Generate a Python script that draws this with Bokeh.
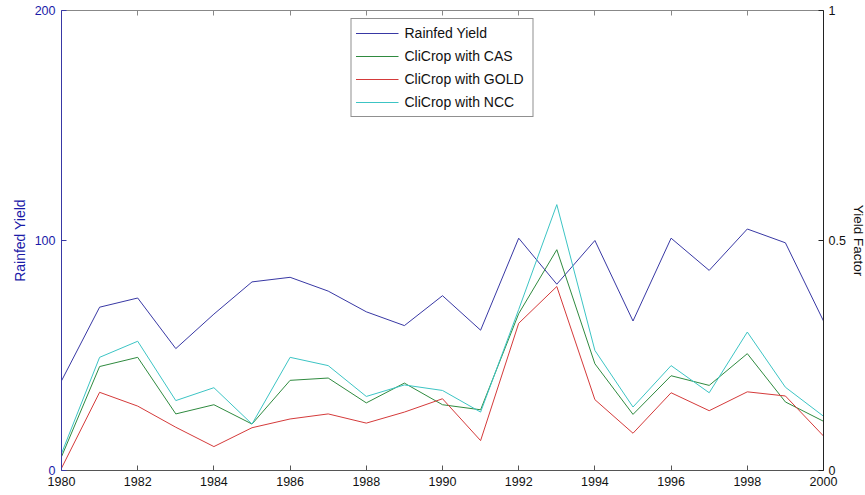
from bokeh.plotting import figure
from bokeh.models import Range1d, LinearAxis, FixedTicker, Legend, LegendItem
from bokeh.embed import file_html
from bokeh.resources import INLINE

years = list(range(1980, 2001))
rainfed = [39, 71, 75, 53, 68, 82, 84, 78, 69, 63, 76, 61, 101, 81, 100, 65, 101, 87, 105, 99, 65]
cas = [0.03, 0.226, 0.246, 0.123, 0.143, 0.101, 0.196, 0.201, 0.147, 0.19, 0.143, 0.132,
       0.341, 0.48, 0.232, 0.122, 0.206, 0.185, 0.254, 0.149, 0.107]
gold = [0.005, 0.17, 0.14, 0.094, 0.052, 0.093, 0.112, 0.123, 0.103, 0.127, 0.156, 0.065,
        0.32, 0.40, 0.154, 0.081, 0.169, 0.13, 0.171, 0.162, 0.075]
ncc = [0.037, 0.246, 0.281, 0.152, 0.18, 0.101, 0.246, 0.228, 0.161, 0.186, 0.174, 0.127,
       0.35, 0.578, 0.261, 0.138, 0.228, 0.169, 0.301, 0.181, 0.118]
x_ticks = list(range(1980, 2001, 2))
left_ticks = [0, 100, 200]
right_ticks = [0, 0.5, 1]

FONT = "Liberation Sans"
BLUE_TXT = "#1a1aa8"
BLUE_LINE = "#3838a4"

p = figure(frame_width=762, frame_height=460, output_backend="svg", toolbar_location=None,
           x_range=Range1d(1980, 2000), y_range=Range1d(0, 200),
           x_axis_location=None, y_axis_location=None,
           min_border_left=61, min_border_right=42, min_border_top=10, min_border_bottom=25)
p.extra_y_ranges = {"yf": Range1d(0, 1)}
p.grid.visible = False
p.outline_line_color = None
p.background_fill_color = "white"
p.border_fill_color = "white"


def style(ax, color, txt_color):
    ax.axis_line_color = color
    ax.major_tick_line_color = color
    ax.major_tick_in = 5
    ax.major_tick_out = 0
    ax.minor_tick_line_color = None
    ax.major_label_text_font = FONT
    ax.major_label_text_font_size = "12.5px"
    ax.major_label_text_color = txt_color
    ax.axis_label_text_font = FONT
    ax.axis_label_text_font_size = "14px"
    ax.axis_label_text_font_style = "normal"


xb = LinearAxis(ticker=FixedTicker(ticks=x_ticks))
style(xb, "#555555", "#111111")
xb.major_label_standoff = 6
p.add_layout(xb, "below")

xt = LinearAxis(ticker=FixedTicker(ticks=x_ticks))
style(xt, "#888888", "#111111")
xt.major_label_overrides = {t: "" for t in x_ticks}
xt.major_label_standoff = 0
p.add_layout(xt, "above")

yl = LinearAxis(ticker=FixedTicker(ticks=left_ticks), axis_label="Rainfed Yield")
style(yl, BLUE_LINE, BLUE_TXT)
yl.axis_label_text_color = BLUE_TXT
yl.major_label_standoff = 6
yl.axis_label_standoff = 4
p.add_layout(yl, "left")

yr = LinearAxis(ticker=FixedTicker(ticks=right_ticks), y_range_name="yf", axis_label="Yield Factor")
style(yr, "#222222", "#111111")
yr.axis_label_text_color = "#111111"
yr.axis_label_text_font_size = "13.5px"
yr.axis_label_orientation = "vertical"
yr.major_label_standoff = 5
yr.axis_label_standoff = 2
p.add_layout(yr, "right")

r1 = p.line(years, rainfed, line_color=BLUE_LINE, line_width=1)
r2 = p.line(years, cas, line_color="#2f8a3f", line_width=1, y_range_name="yf")
r3 = p.line(years, gold, line_color="#d43a3a", line_width=1, y_range_name="yf")
r4 = p.line(years, ncc, line_color="#3cc4c4", line_width=1, y_range_name="yf")

legend = Legend(items=[
    LegendItem(label="Rainfed Yield", renderers=[r1]),
    LegendItem(label="CliCrop with CAS", renderers=[r2]),
    LegendItem(label="CliCrop with GOLD", renderers=[r3]),
    LegendItem(label="CliCrop with NCC", renderers=[r4]),
], location="top_center")
legend.margin = 8
legend.padding = 4
legend.spacing = 3
legend.label_height = 20
legend.glyph_height = 20
legend.glyph_width = 43
legend.label_standoff = 6
legend.label_width = 124
legend.label_text_font = FONT
legend.label_text_font_size = "14px"
legend.label_text_color = "#111111"
legend.border_line_color = "#222222"
legend.border_line_width = 1
legend.background_fill_color = "white"
legend.background_fill_alpha = 1
p.add_layout(legend, "center")

open("out.html", "w").write(file_html(p, INLINE))
